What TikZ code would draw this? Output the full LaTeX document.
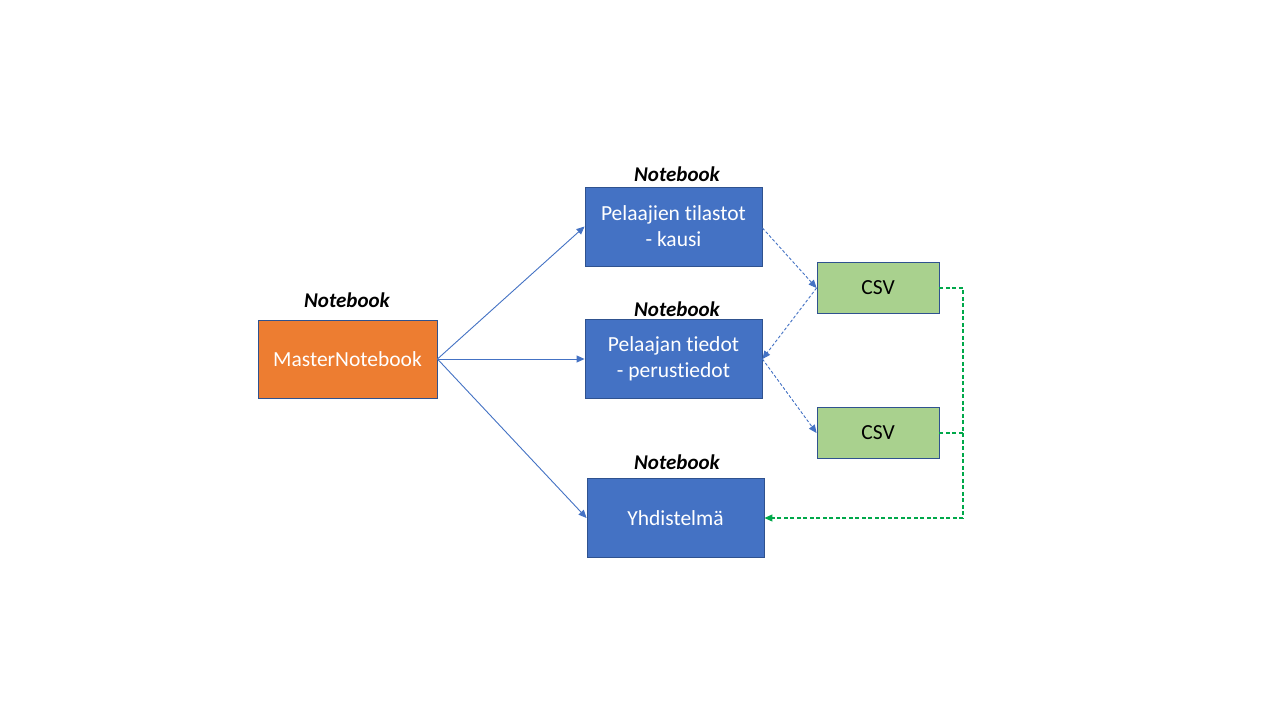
\documentclass[tikz,border=0pt]{standalone}
\usepackage{fontspec}
\setmainfont{Carlito}[Ligatures={NoCommon}]
\usetikzlibrary{arrows.meta}
\definecolor{nbblue}{HTML}{4472C4}
\definecolor{nborange}{HTML}{ED7D31}
\definecolor{csvgreen}{HTML}{A9D18E}
\definecolor{edgeblue}{HTML}{2F528F}
\definecolor{linkgreen}{HTML}{00A84A}
\definecolor{linkblue}{HTML}{4472C4}
\tikzset{
  box/.style={draw=edgeblue, line width=0.9pt, minimum width=#1, inner sep=0pt, text=white, align=center, font=\fontsize{21.5}{26}\selectfont},
  nbbox/.style={box=177pt, minimum height=79pt, fill=nbblue},
  masterbox/.style={box=179pt, minimum height=78pt, fill=nborange},
  csvbox/.style={box=122pt, minimum height=51pt, fill=csvgreen, text=black},
  nblabel/.style={font=\fontsize{21}{25}\selectfont\bfseries\itshape, inner sep=0pt},
  solidlink/.style={draw=linkblue, line width=0.9pt, -{Triangle[length=8pt,width=7pt]}},
  dashlink/.style={draw=linkblue, line width=0.9pt, dash pattern=on 3pt off 2pt, -{Triangle[length=8pt,width=7pt]}},
  greenlink/.style={draw=linkgreen, line width=1.1pt, dash pattern=on 4pt off 2.5pt},
}
\begin{document}
\begin{tikzpicture}[x=1pt,y=-1pt]
\useasboundingbox[fill=white] (0,0) rectangle (1280,720);
\node[masterbox] (master) at (347.5,359) {MasterNotebook};
\node[nbbox] (stats) at (673.5,226.5) {Pelaajien tilastot\\- kausi};
\node[nbbox] (info) at (673.5,359) {Pelaajan tiedot\\- perustiedot};
\node[nbbox] (comb) at (675.5,518) {Yhdistelmä};
\node[csvbox] (csv1) at (878,288) {CSV};
\node[csvbox] (csv2) at (878,433) {CSV};
\node[nblabel] (lm) at (347,300) {Notebook};
\node[nblabel] (ls) at (677,174) {Notebook};
\node[nblabel] (li) at (677,309) {Notebook};
\node[nblabel] (lc) at (677,462) {Notebook};
\coordinate (j1) at (963,288);
\coordinate (j2) at (963,433);
\coordinate (j3) at (963,518);
\draw[solidlink] (master.east) -- (stats.west);
\draw[solidlink] (master.east) -- (info.west);
\draw[solidlink] (master.east) -- (comb.west);
\draw[dashlink] ([yshift=-1.5pt]stats.east) -- (csv1.west);
\draw[dashlink] (csv1.west) -- (info.east);
\draw[dashlink] (info.east) -- (csv2.west);
\draw[greenlink] (csv1.east) -- (j1) -- (j3);
\draw[greenlink] (csv2.east) -- (j2);
\draw[greenlink, -{Triangle[length=8pt,width=7pt]}] (j3) -- (comb.east);
\end{tikzpicture}
\end{document}
